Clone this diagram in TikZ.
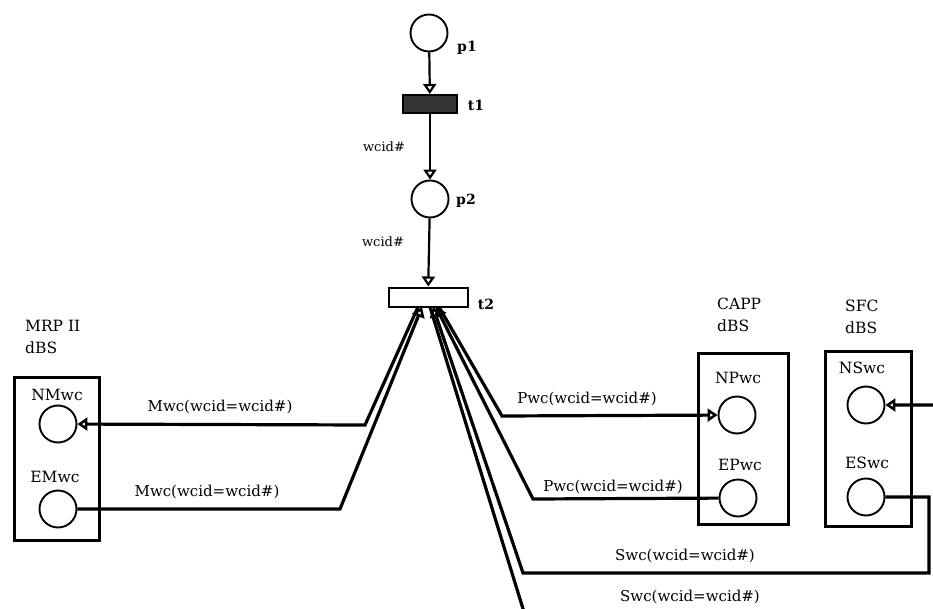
\documentclass[tikz,border=0pt]{standalone}
\usepackage{fontspec}
\setmainfont{DejaVu Serif}
\usetikzlibrary{arrows.meta, positioning}

\begin{document}
\begin{tikzpicture}[
  x=1pt, y=-1pt,
  place/.style={draw, circle, line width=1.9pt, minimum size=37pt, inner sep=0pt},
  trans/.style={draw, rectangle, line width=2pt, inner sep=0pt},
  dbs/.style={draw, rectangle, line width=3pt, inner sep=0pt},
  lbl/.style={font=\fontsize{15.5}{18}\selectfont, inner sep=1pt},
  tlbl/.style={font=\bfseries\fontsize{14}{17}\selectfont, inner sep=1pt},
  wlbl/.style={font=\fontsize{13}{16}\selectfont, inner sep=1pt},
  arclbl/.style={font=\fontsize{15}{18}\selectfont, inner sep=1pt},
  grp/.style={font=\fontsize{15.5}{22}\selectfont, align=left, anchor=north west, inner sep=0pt},
  arrow/.style={-{Triangle[open, length=10pt, width=13pt]}},
  arc/.style={line width=2.2pt, arrow},
  link/.style={line width=3.2pt, line join=miter}
]
\useasboundingbox (0,0) rectangle (933,609);

% Column: p1 -> t1 -> p2 -> t2
\node[place] (p1) at (429,33) {};
\node[trans, fill=black!80, minimum width=54pt, minimum height=18pt] (t1) at (430,104) {};
\node[place] (p2) at (430,199) {};
\node[trans, fill=white, minimum width=79pt, minimum height=19pt] (t2) at (428,297) {};

\node[tlbl] (p1l) at (467,48) {p1};
\node[tlbl] (t1l) at (476,105) {t1};
\node[tlbl] (p2l) at (466,201) {p2};
\node[tlbl] (t2l) at (486,304) {t2};

\draw[arc] (p1) -- (t1);
\draw[arc] (t1) -- (p2);
\draw[arc] (p2) -- (t2);
\node[wlbl] (w1) at (384,147) {wcid\#};
\node[wlbl] (w2) at (383,242) {wcid\#};

% MRP II dBS
\node[grp] (mrp) at (25,320) {MRP II\\dBS};
\node[dbs, minimum width=85pt, minimum height=163pt] (mrpbox) at (56.5,458.5) {};
\node[lbl] (NMwcl) at (57,395) {NMwc};
\node[place] (NMwc) at (58,424) {};
\node[lbl] (EMwcl) at (55,477) {EMwc};
\node[place] (EMwc) at (58,509) {};

% CAPP dBS
\node[grp] (capp) at (717,298) {CAPP\\dBS};
\node[dbs, minimum width=90pt, minimum height=171pt] (cappbox) at (743,438.5) {};
\node[lbl] (NPwcl) at (738,378) {NPwc};
\node[place] (NPwc) at (737,415) {};
\node[lbl] (EPwcl) at (740,465) {EPwc};
\node[place] (EPwc) at (738,498) {};

% SFC dBS
\node[grp] (sfc) at (845,300) {SFC\\dBS};
\node[dbs, minimum width=86pt, minimum height=175pt] (sfcbox) at (868,438.5) {};
\node[lbl] (NSwcl) at (862,368) {NSwc};
\node[place] (NSwc) at (866,405) {};
\node[lbl] (ESwcl) at (867,463) {ESwc};
\node[place] (ESwc) at (866,497) {};

% ends under t2
\coordinate (tm1) at (418,307);
\coordinate (tm2) at (422,307);
\coordinate (ts2) at (430,307);
\coordinate (ts1) at (433,307);
\coordinate (tp2) at (436,307);
\coordinate (tp1) at (439,307);

% arcs to and from t2
\draw[link, arrow] (tm1) -- (365,425) -- (NMwc);
\draw[link, arrow] (EMwc) -- (340,509) -- (tm2);
\draw[link, arrow] (tp1) -- (502,416) -- (NPwc);
\draw[link, arrow] (EPwc) -- (533,499) -- (tp2);
\draw[link, arrow] (ESwc) -- (929,497) -- (929,573) -- (523,573) -- (ts1);
\draw[link, arrow] (ts2) -- (524,612) -- (950,612) -- (950,405) -- (NSwc);

\node[arclbl] (m1) at (220,407) {Mwc(wcid=wcid\#)};
\node[arclbl] (m2) at (207,492) {Mwc(wcid=wcid\#)};
\node[arclbl] (pw1) at (587,399) {Pwc(wcid=wcid\#)};
\node[arclbl] (pw2) at (613,487) {Pwc(wcid=wcid\#)};
\node[arclbl] (sw1) at (685,556) {Swc(wcid=wcid\#)};
\node[arclbl] (sw2) at (690,597) {Swc(wcid=wcid\#)};

\end{tikzpicture}
\end{document}
